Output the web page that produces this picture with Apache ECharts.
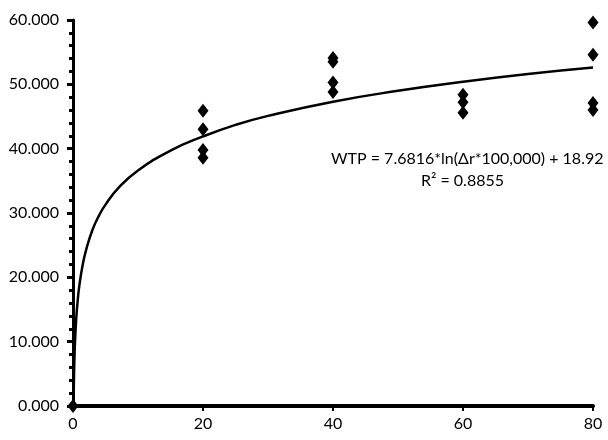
<!DOCTYPE html>
<html>
<head>
<meta charset="utf-8">
<script src="https://cdn.jsdelivr.net/npm/echarts@6/dist/echarts.min.js"></script>
<style>
  html, body { margin: 0; padding: 0; background: #fff; }
  #chart { width: 608px; height: 440px; }
</style>
</head>
<body>
<div id="chart"></div>
<script>
// Observed WTP points (x = risk reduction level)
const pointX = [0, 20, 20, 20, 20, 40, 40, 40, 40, 60, 60, 60, 80, 80, 80, 80];
const pointY = [0, 45.9, 43.0, 39.8, 38.6, 54.1, 53.5, 50.3, 48.8, 48.4, 47.2, 45.6, 59.6, 54.6, 47.1, 46.0];

// Trend line
const trendX = [0.085, 0.1, 0.15, 0.2, 0.3, 0.5, 0.75, 1, 1.5, 2, 3, 4, 5, 7, 10, 15, 20, 25, 30, 40, 50, 60, 70, 80];
const trendY = [0, 1.2, 4.4, 6.6, 9.7, 13.6, 16.7, 18.9, 22.0, 24.2, 27.4, 29.6, 31.3, 33.9, 36.6, 39.7, 41.9, 43.7, 45.1, 47.3, 49.0, 50.4, 51.6, 52.6];

const xTicks = [0, 20, 40, 60, 80];
const yTicks = [0, 10, 20, 30, 40, 50, 60];

const equationText = "WTP = 7.6816*ln(\u0394r*100,000) + 18.92";
const rSquaredText = "R\u00B2 = 0.8855";

const font = "Lato";

const chart = echarts.init(document.getElementById("chart"));

chart.setOption({
  backgroundColor: "#fff",
  animation: false,
  grid: { left: 73, right: 15, top: 20, bottom: 34 },
  xAxis: {
    type: "value",
    min: xTicks[0],
    max: xTicks[xTicks.length - 1],
    interval: 20,
    splitLine: { show: false },
    axisLine: { show: true, onZero: false, lineStyle: { color: "#000", width: 4 } },
    axisTick: { show: true, length: 5, lineStyle: { color: "#000", width: 2 } },
    axisLabel: { color: "#000", fontFamily: font, fontSize: 16, margin: 10 }
  },
  yAxis: {
    type: "value",
    min: yTicks[0],
    max: yTicks[yTicks.length - 1],
    interval: 10,
    splitLine: { show: false },
    axisLine: { show: true, lineStyle: { color: "#000", width: 3 } },
    axisTick: { show: true, length: 6, lineStyle: { color: "#000", width: 3 } },
    minorTick: { show: true, splitNumber: 5, length: 4, lineStyle: { color: "#000", width: 3 } },
    axisLabel: {
      color: "#000",
      fontFamily: font,
      fontSize: 16,
      margin: 14,
      formatter: (v) => v.toFixed(3)
    }
  },
  series: [
    {
      type: "line",
      data: trendX.map((x, i) => [x, trendY[i]]),
      smooth: true,
      showSymbol: false,
      lineStyle: { color: "#000", width: 2.5 },
      z: 2
    },
    {
      type: "scatter",
      data: pointX.map((x, i) => [x, pointY[i]]),
      symbol: "diamond",
      symbolSize: [11, 14],
      itemStyle: { color: "#000", opacity: 1 },
      clip: false,
      z: 3
    }
  ],
  graphic: [
    {
      type: "text",
      left: 331,
      top: 151,
      style: { text: equationText, fill: "#000", font: "16px " + font }
    },
    {
      type: "text",
      left: 421,
      top: 173,
      style: { text: rSquaredText, fill: "#000", font: "16px " + font }
    }
  ]
});
</script>
</body>
</html>
